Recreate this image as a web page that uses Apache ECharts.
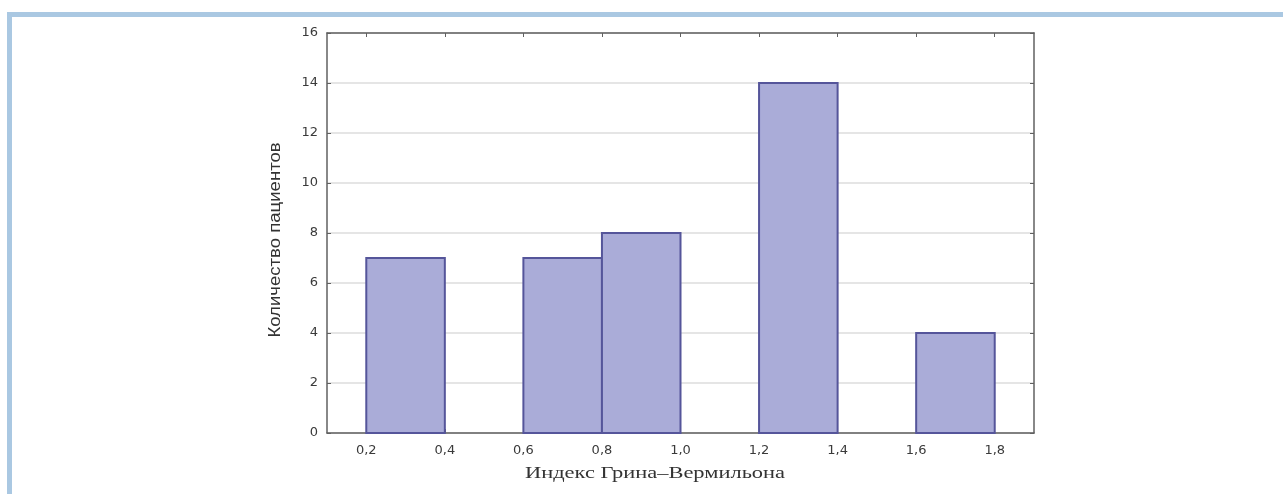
<!DOCTYPE html>
<html>
<head>
<meta charset="utf-8">
<script src="https://cdn.jsdelivr.net/npm/echarts@6/dist/echarts.min.js"></script>
<style>
  html, body { margin: 0; padding: 0; background: #ffffff; }
  #chart { width: 1283px; height: 494px; }
</style>
</head>
<body>
<div id="chart"></div>
<script>
// Histogram bins (left and right edges) and patient counts
const binStart = [0.2, 0.6, 0.8, 1.2, 1.6];
const binEnd   = [0.4, 0.8, 1.0, 1.4, 1.8];
const counts   = [7, 7, 8, 14, 4];

// Axis tick values
const xTicks = [0.2, 0.4, 0.6, 0.8, 1.0, 1.2, 1.4, 1.6, 1.8];
const yTicks = [0, 2, 4, 6, 8, 10, 12, 14, 16];

const xTitle = 'Индекс Грина–Вермильона';
const yTitle = 'Количество пациентов';

const barData = binStart.map((s, i) => [s, binEnd[i], counts[i]]);

const chart = echarts.init(document.getElementById('chart'), null, { renderer: 'canvas' });

const axisLineStyle = { color: '#606060', width: 1.5 };
const tickLabel = { fontFamily: 'DejaVu Sans, Liberation Sans, sans-serif', fontSize: 13, color: '#3a3a3a' };

chart.setOption({
  animation: false,
  backgroundColor: '#ffffff',
  grid: { left: 327, right: 249, top: 33, bottom: 61, containLabel: false },
  xAxis: [
    {
      type: 'value', min: 0.1, max: 1.9, position: 'bottom',
      axisLine: { show: true, onZero: false, lineStyle: axisLineStyle },
      axisTick: { show: true, inside: true, length: 4, customValues: xTicks, lineStyle: { color: '#606060' } },
      axisLabel: {
        ...tickLabel, margin: 11, customValues: xTicks,
        formatter: v => v.toFixed(1).replace('.', ',')
      },
      splitLine: { show: false }
    },
    {
      type: 'value', min: 0.1, max: 1.9, position: 'top',
      axisLine: { show: true, onZero: false, lineStyle: axisLineStyle },
      axisTick: { show: true, inside: true, length: 4, customValues: xTicks, lineStyle: { color: '#606060' } },
      axisLabel: { show: false },
      splitLine: { show: false }
    }
  ],
  yAxis: [
    {
      type: 'value', min: yTicks[0], max: yTicks[yTicks.length - 1], interval: 2, position: 'left',
      axisLine: { show: true, lineStyle: axisLineStyle },
      axisTick: { show: true, inside: true, length: 4, lineStyle: { color: '#606060' } },
      axisLabel: { ...tickLabel, margin: 9 },
      splitLine: { show: true, lineStyle: { color: '#dcdcdc', width: 1.5 } }
    },
    {
      type: 'value', min: yTicks[0], max: yTicks[yTicks.length - 1], interval: 2, position: 'right',
      axisLine: { show: true, lineStyle: axisLineStyle },
      axisTick: { show: true, inside: true, length: 4, lineStyle: { color: '#606060' } },
      axisLabel: { show: false },
      splitLine: { show: false }
    }
  ],
  series: [
    {
      type: 'custom',
      xAxisIndex: 0, yAxisIndex: 0,
      data: barData,
      renderItem: function (params, api) {
        const p0 = api.coord([api.value(0), 0]);
        const p1 = api.coord([api.value(1), api.value(2)]);
        return {
          type: 'rect',
          shape: { x: p0[0], y: p1[1], width: p1[0] - p0[0], height: p0[1] - p1[1] },
          style: { fill: '#aaacd8', stroke: '#55559a', lineWidth: 2 }
        };
      },
      z: 3
    }
  ],
  graphic: [
    // light-blue page frame along the top and left edges
    { type: 'rect', shape: { x: 7, y: 12, width: 1276, height: 5 }, style: { fill: '#aac8e2' }, silent: true },
    { type: 'rect', shape: { x: 7, y: 12, width: 5, height: 482 }, style: { fill: '#aac8e2' }, silent: true },
    // axis titles (the x title is set in a wide serif, the y title runs bottom-to-top)
    {
      type: 'text', x: 655, y: 474, scaleX: 1.32, silent: true,
      style: {
        text: xTitle, font: '17px "Liberation Serif", "Times New Roman", serif',
        fill: '#333', align: 'center', verticalAlign: 'middle'
      }
    },
    {
      type: 'text', x: 276, y: 240, rotation: Math.PI / 2, scaleX: 1.16, silent: true,
      style: {
        text: yTitle, font: '16px "Liberation Sans", Arial, sans-serif',
        fill: '#333', align: 'center', verticalAlign: 'middle'
      }
    }
  ]
});
</script>
</body>
</html>
